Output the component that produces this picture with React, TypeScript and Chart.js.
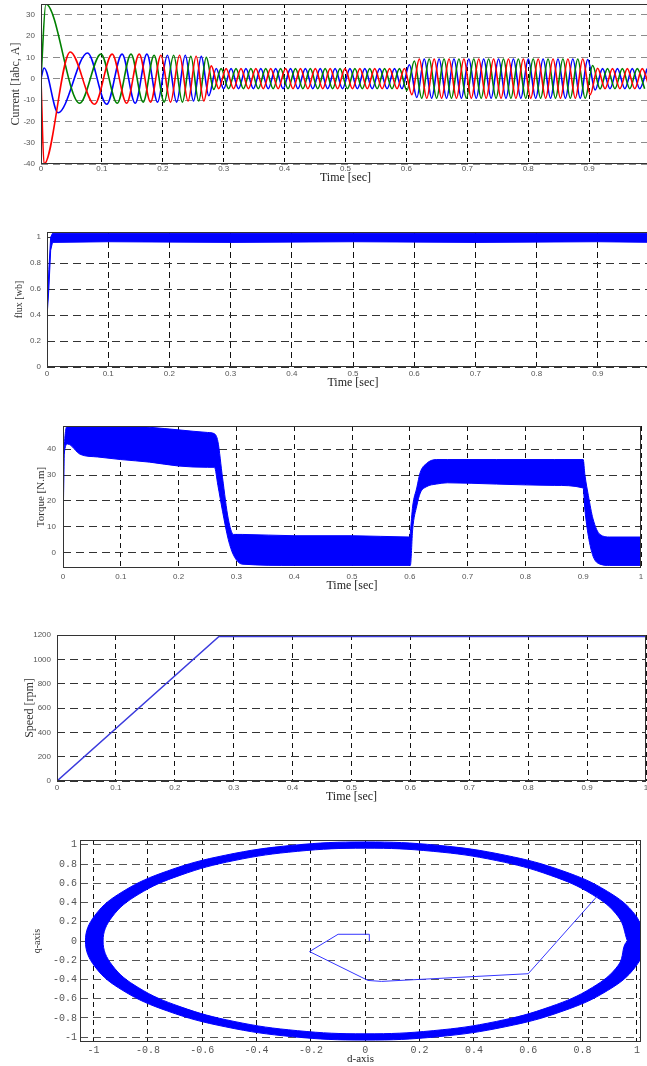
import React, { useEffect, useRef } from "react";
import { Chart, registerables } from "chart.js";

Chart.register(...registerables);

// ---------------- Data ----------------
// Time ticks
const timeTicks = [0, 0.1, 0.2, 0.3, 0.4, 0.5, 0.6, 0.7, 0.8, 0.9, 1];

// Stator currents (extrema)
const redT = [0, 0.005, 0.048, 0.088, 0.1168, 0.1406, 0.1613, 0.1799, 0.1969, 0.2127, 0.2275, 0.2415, 0.2547, 0.2674,
  0.2796, 0.2918, 0.304, 0.3162, 0.3284, 0.3406, 0.3528, 0.365, 0.3772, 0.3894, 0.4016, 0.4138, 0.426, 0.4382, 0.4504,
  0.4626, 0.4748, 0.487, 0.4992, 0.5114, 0.5236, 0.5358, 0.548, 0.5602, 0.5724, 0.5846, 0.5968, 0.609, 0.6212, 0.6334,
  0.6456, 0.6578, 0.67, 0.6822, 0.6944, 0.7066, 0.7188, 0.731, 0.7432, 0.7554, 0.7676, 0.7798, 0.792, 0.8042, 0.8164,
  0.8286, 0.8408, 0.853, 0.8652, 0.8774, 0.8896, 0.9018, 0.914, 0.9262, 0.9384, 0.9506, 0.9628, 0.975, 0.9872, 0.9994];
const redV = [0, -40, 12.5, -12, 11.5, -11.5, 11.5, -11, 11, -11, 11, -10.5, 10.5, -10.5,
  6, -4.7, 4.7, -4.7, 4.7, -4.7, 4.7, -4.7, 4.7, -4.7, 4.7, -4.7, 4.7, -4.7, 4.7,
  -4.7, 4.7, -4.7, 4.7, -4.7, 4.7, -4.7, 4.7, -4.7, 4.7, -4.7, 4.8, -7.5, 9.2, -9.2,
  9.2, -9.2, 9.2, -9.2, 9.2, -9.2, 9.2, -9.2, 9.2, -9.2, 9.2, -9.2, 9.2, -9.2, 9.2,
  -9.2, 9.2, -9.2, 9.2, -9.2, 9.2, -7.5, 4.9, -4.7, 4.7, -4.7, 4.7, -4.7, 4.7, -4.7];

const greenT = [0, 0.008, 0.0635, 0.0984, 0.1252, 0.1478, 0.1677, 0.1857, 0.2023, 0.2178, 0.2322, 0.246, 0.259, 0.2714,
  0.2836, 0.2958, 0.308, 0.3202, 0.3324, 0.3446, 0.3568, 0.369, 0.3812, 0.3934, 0.4056, 0.4178, 0.43, 0.4422, 0.4544,
  0.4666, 0.4788, 0.491, 0.5032, 0.5154, 0.5276, 0.5398, 0.552, 0.5642, 0.5764, 0.5886, 0.6008, 0.613, 0.6252, 0.6374,
  0.6496, 0.6618, 0.674, 0.6862, 0.6984, 0.7106, 0.7228, 0.735, 0.7472, 0.7594, 0.7716, 0.7838, 0.796, 0.8082, 0.8204,
  0.8326, 0.8448, 0.857, 0.8692, 0.8814, 0.8936, 0.9058, 0.918, 0.9302, 0.9424, 0.9546, 0.9668, 0.979, 0.9912];
const greenV = [0, 35, -11.5, 11.5, -11.5, 11.5, -11, 11, -11, 11, -11, 10.5, -10.5, 10,
  -5, 4.7, -4.7, 4.7, -4.7, 4.7, -4.7, 4.7, -4.7, 4.7, -4.7, 4.7, -4.7, 4.7, -4.7,
  4.7, -4.7, 4.7, -4.7, 4.7, -4.7, 4.7, -4.7, 4.7, -4.7, 4.7, -5.5, 8.3, -9.2, 9.2,
  -9.2, 9.2, -9.2, 9.2, -9.2, 9.2, -9.2, 9.2, -9.2, 9.2, -9.2, 9.2, -9.2, 9.2, -9.2,
  9.2, -9.2, 9.2, -9.2, 9.2, -9.2, 6.2, -4.8, 4.7, -4.7, 4.7, -4.7, 4.7, -4.7];

const blueT = [0, 0.005, 0.028, 0.0765, 0.1079, 0.1331, 0.1547, 0.1739, 0.1914, 0.2076, 0.2227, 0.2369, 0.2504, 0.2632,
  0.2755, 0.2877, 0.2999, 0.3121, 0.3243, 0.3365, 0.3487, 0.3609, 0.3731, 0.3853, 0.3975, 0.4097, 0.4219, 0.4341, 0.4463,
  0.4585, 0.4707, 0.4829, 0.4951, 0.5073, 0.5195, 0.5317, 0.5439, 0.5561, 0.5683, 0.5805, 0.5927, 0.6049, 0.6171, 0.6293,
  0.6415, 0.6537, 0.6659, 0.6781, 0.6903, 0.7025, 0.7147, 0.7269, 0.7391, 0.7513, 0.7635, 0.7757, 0.7879, 0.8001, 0.8123,
  0.8245, 0.8367, 0.8489, 0.8611, 0.8733, 0.8855, 0.8977, 0.9099, 0.9221, 0.9343, 0.9465, 0.9587, 0.9709, 0.9831, 0.9953];
const blueV = [0, 5, -16, 12, -12, 11.5, -11.5, 11.5, -11, 11, -11, 11, -10.5, 10.5,
  -8, 4.8, -4.7, 4.7, -4.7, 4.7, -4.7, 4.7, -4.7, 4.7, -4.7, 4.7, -4.7, 4.7, -4.7,
  4.7, -4.7, 4.7, -4.7, 4.7, -4.7, 4.7, -4.7, 4.7, -4.7, 4.7, -4.7, 6.5, -8.8, 9.2,
  -9.2, 9.2, -9.2, 9.2, -9.2, 9.2, -9.2, 9.2, -9.2, 9.2, -9.2, 9.2, -9.2, 9.2, -9.2,
  9.2, -9.2, 9.2, -9.2, 9.2, -9.2, 9.0, -5.3, 4.7, -4.7, 4.7, -4.7, 4.7, -4.7, 4.7];
const currentTicks = [-40, -30, -20, -10, 0, 10, 20, 30];

// Flux band
const fluxT = [0, 0.0005, 0.003, 0.006, 0.009, 0.1, 0.3, 0.5, 0.7, 0.9, 1.0];
const fluxHi = [0, 0.45, 0.75, 1.0, 1.03, 1.03, 1.03, 1.03, 1.03, 1.03, 1.03];
const fluxLo = [0, 0.42, 0.6, 0.9, 0.96, 0.965, 0.96, 0.965, 0.96, 0.965, 0.96];
const fluxTicks = [0, 0.2, 0.4, 0.6, 0.8, 1];

// Torque band
const torqueT = [0, 0.002, 0.008, 0.03, 0.06, 0.1, 0.15, 0.2, 0.25, 0.262, 0.268, 0.276, 0.286, 0.295, 0.31, 0.4, 0.5,
  0.6, 0.601, 0.605, 0.612, 0.618, 0.629, 0.646, 0.665, 0.75, 0.85, 0.9, 0.903, 0.909, 0.917, 0.929, 0.946, 1.0];
const torqueHi = [0, 40, 49, 49, 49, 49, 48.5, 47.5, 46.5, 46, 43, 29, 13, 7, 7, 6.5, 6.5,
  6, 8, 18, 25, 31, 34.5, 36, 36, 36, 36, 36, 30, 22, 13, 7, 6, 6];
const torqueLo = [0, 38, 42, 38, 37, 36, 35, 33.5, 33, 33, 26, 16, 5, -1, -4.5, -5, -5,
  -5, -5, 9, 18, 23, 25.5, 26.5, 27, 26.5, 26, 25, 16.5, 6.3, -1.4, -4.5, -5, -5];
const torqueTicks = [0, 10, 20, 30, 40];

// Speed
const speedT = [0, 0.275, 1.0];
const speedV = [0, 1188, 1188];
const speedTicks = [0, 200, 400, 600, 800, 1000, 1200];

// Flux locus (d-q): thick ring = outer edge (counter-clockwise) followed by inner edge (clockwise)
const ringD = [
  1.03, 0.995, 0.892, 0.728, 0.515, 0.267, 0, -0.267, -0.515, -0.728, -0.892, -0.995, -1.03,
  -0.995, -0.892, -0.728, -0.515, -0.267, 0, 0.267, 0.515, 0.728, 0.892, 0.995, 1.03,
  0.965, 0.932, 0.836, 0.682, 0.483, 0.25, 0, -0.25, -0.483, -0.682, -0.836, -0.932, -0.965,
  -0.932, -0.836, -0.682, -0.483, -0.25, 0, 0.25, 0.483, 0.682, 0.836, 0.932, 0.965];
const ringQ = [
  0, 0.267, 0.515, 0.728, 0.892, 0.995, 1.03, 0.995, 0.892, 0.728, 0.515, 0.267, 0,
  -0.267, -0.515, -0.728, -0.892, -0.995, -1.03, -0.995, -0.892, -0.728, -0.515, -0.267, 0,
  0, -0.25, -0.483, -0.682, -0.836, -0.932, -0.965, -0.932, -0.836, -0.682, -0.483, -0.25, 0,
  0.25, 0.483, 0.682, 0.836, 0.932, 0.965, 0.932, 0.836, 0.682, 0.483, 0.25, 0];
const pathD = [0.015, 0.015, -0.1, -0.205, 0.01, 0.06, 0.6, 0.855];
const pathQ = [0.0, 0.07, 0.07, -0.11, -0.41, -0.42, -0.34, 0.47];
const dTicks = [-1, -0.8, -0.6, -0.4, -0.2, 0, 0.2, 0.4, 0.6, 0.8, 1];
const qTicks = [-1, -0.8, -0.6, -0.4, -0.2, 0, 0.2, 0.4, 0.6, 0.8, 1];

// ---------------- Helpers ----------------
const SANS = "'Liberation Sans', Arial, sans-serif";
const SERIF = "'Liberation Serif', 'Times New Roman', serif";
const MONO = "'Liberation Mono', 'Courier New', monospace";
const PAD_TOP = 12;
const PAD_RIGHT = 10;

const pts = (xs: number[], ys: number[]) => xs.map((x, i) => ({ x, y: ys[i] }));

const framePlugin = {
  id: "frame",
  afterDatasetsDraw(chart: any) {
    const { ctx, chartArea: a } = chart;
    ctx.save();
    ctx.strokeStyle = "#333";
    ctx.lineWidth = 1;
    ctx.setLineDash([]);
    const l = Math.round(a.left) + 0.5;
    const t = Math.round(a.top) + 0.5;
    const r = Math.round(a.right) - 0.5;
    const b = Math.round(a.bottom) - 0.5;
    ctx.strokeRect(l, t, r - l, b - t);
    ctx.restore();
  },
};

type Spec = {
  L: number; R: number; T: number; B: number; xH: number;
  xMin: number; xMax: number; yMin: number; yMax: number;
  xTicks: number[]; yTicks: number[];
  xTitle: string; yTitle: string;
  xTitleSize: number; yTitleSize: number; yTitlePad: number;
  tickFont: any; xTickPad: number; yTickPad: number;
  xGridColor: string; xDash: number[]; yGridColor: string; yDash: number[];
  datasets: any[];
};

function buildConfig(s: Spec): any {
  return {
    type: "line",
    data: { datasets: s.datasets },
    options: {
      responsive: false,
      animation: false,
      events: [],
      layout: { padding: { top: PAD_TOP, right: PAD_RIGHT, left: 0, bottom: 0 } },
      plugins: { legend: { display: false }, tooltip: { enabled: false }, title: { display: false } },
      elements: { point: { radius: 0 } },
      scales: {
        x: {
          type: "linear",
          position: "bottom",
          min: s.xMin,
          max: s.xMax,
          afterBuildTicks: (sc: any) => { sc.ticks = s.xTicks.map((v) => ({ value: v })); },
          afterFit: (sc: any) => { sc.height = s.xH; },
          grid: { color: s.xGridColor, lineWidth: 1, drawTicks: false },
          border: { display: false, dash: s.xDash },
          ticks: {
            autoSkip: false, maxRotation: 0, minRotation: 0, padding: s.xTickPad,
            font: s.tickFont, color: "#555", callback: (v: any) => String(v),
          },
          title: { display: true, text: s.xTitle, font: { family: SERIF, size: s.xTitleSize }, color: "#222", padding: 0 },
        },
        y: {
          type: "linear",
          position: "left",
          min: s.yMin,
          max: s.yMax,
          afterBuildTicks: (sc: any) => { sc.ticks = s.yTicks.map((v) => ({ value: v })); },
          afterFit: (sc: any) => { sc.width = s.L; },
          grid: { color: s.yGridColor, lineWidth: 1, drawTicks: false },
          border: { display: false, dash: s.yDash },
          ticks: {
            autoSkip: false, padding: s.yTickPad, font: s.tickFont, color: "#555",
            callback: (v: any) => String(v),
          },
          title: {
            display: true, text: s.yTitle, font: { family: SERIF, size: s.yTitleSize }, color: "#333",
            padding: { top: s.yTitlePad, bottom: 0 },
          },
        },
      },
    },
    plugins: [framePlugin],
  };
}

function Plot({ spec }: { spec: Spec }) {
  const ref = useRef<HTMLCanvasElement | null>(null);
  const top = spec.T - PAD_TOP;
  const width = spec.R + PAD_RIGHT;
  const height = spec.B - top + spec.xH;
  useEffect(() => {
    const chart = new Chart(ref.current as HTMLCanvasElement, buildConfig(spec));
    return () => chart.destroy();
  }, []);
  return (
    <canvas
      ref={ref}
      width={width}
      height={height}
      style={{ position: "absolute", left: 0, top, width, height }}
    />
  );
}

const tickSans = { family: SANS, size: 8 };
const line = (data: any[], color: string, width: number, extra: any = {}) => ({
  data, borderColor: color, backgroundColor: color, borderWidth: width, pointRadius: 0, fill: false, ...extra,
});

const specs: Spec[] = [
  {
    L: 41, R: 650, T: 4, B: 164, xH: 21,
    xMin: 0, xMax: 1, yMin: -40, yMax: 35, xTicks: timeTicks, yTicks: currentTicks,
    xTitle: "Time [sec]", yTitle: "Current [Iabc, A]", xTitleSize: 12, yTitleSize: 12, yTitlePad: 8.8,
    tickFont: tickSans, xTickPad: 0, yTickPad: 6,
    xGridColor: "#000", xDash: [4, 3], yGridColor: "#8c8c8c", yDash: [7, 5],
    datasets: [
      line(pts(redT, redV), "#ff0000", 1.6, { cubicInterpolationMode: "monotone" }),
      line(pts(greenT, greenV), "#008000", 1.6, { cubicInterpolationMode: "monotone" }),
      line(pts(blueT, blueV), "#0000ff", 1.6, { cubicInterpolationMode: "monotone" }),
    ],
  },
  {
    L: 47, R: 659, T: 232, B: 367, xH: 23,
    xMin: 0, xMax: 1, yMin: 0, yMax: 1.04, xTicks: timeTicks, yTicks: fluxTicks,
    xTitle: "Time [sec]", yTitle: "flux [wb]", xTitleSize: 12, yTitleSize: 10, yTitlePad: 13,
    tickFont: tickSans, xTickPad: 2, yTickPad: 6,
    xGridColor: "#111", xDash: [6, 4], yGridColor: "#333", yDash: [8, 5],
    datasets: [
      line(pts(fluxT, fluxLo), "#0000ff", 1),
      line(pts(fluxT, fluxHi), "#0000ff", 1, { fill: "-1" }),
    ],
  },
  {
    L: 63, R: 641, T: 426, B: 568, xH: 25,
    xMin: 0, xMax: 1, yMin: -6, yMax: 49, xTicks: timeTicks, yTicks: torqueTicks,
    xTitle: "Time [sec]", yTitle: "Torque [N.m]", xTitleSize: 12, yTitleSize: 11, yTitlePad: 34.4,
    tickFont: tickSans, xTickPad: 4, yTickPad: 7,
    xGridColor: "#111", xDash: [5, 4], yGridColor: "#333", yDash: [8, 5],
    datasets: [
      line(pts(torqueT, torqueLo), "#0000ff", 1, { cubicInterpolationMode: "monotone" }),
      line(pts(torqueT, torqueHi), "#0000ff", 1, { cubicInterpolationMode: "monotone", fill: "-1" }),
    ],
  },
  {
    L: 57, R: 646, T: 635, B: 781, xH: 23,
    xMin: 0, xMax: 1, yMin: 0, yMax: 1200, xTicks: timeTicks, yTicks: speedTicks,
    xTitle: "Time [sec]", yTitle: "Speed [rpm]", xTitleSize: 12, yTitleSize: 12, yTitlePad: 22.8,
    tickFont: tickSans, xTickPad: 2, yTickPad: 6,
    xGridColor: "#111", xDash: [5, 4], yGridColor: "#333", yDash: [8, 5],
    datasets: [line(pts(speedT, speedV), "#3b3bdd", 1.5)],
  },
  {
    L: 80, R: 641, T: 840, B: 1042, xH: 24,
    xMin: -1.05, xMax: 1.015, yMin: -1.05, yMax: 1.05, xTicks: dTicks, yTicks: qTicks,
    xTitle: "d-axis", yTitle: "q-axis", xTitleSize: 11, yTitleSize: 10, yTitlePad: 31,
    tickFont: { family: MONO, size: 10 }, xTickPad: 2, yTickPad: 3,
    xGridColor: "#111", xDash: [5, 4], yGridColor: "#555", yDash: [8, 5],
    datasets: [
      line(pts(pathD, pathQ), "#3535ff", 1),
      line(pts(ringD, ringQ), "#0000ff", 1, { tension: 0.4, fill: "shape" }),
    ],
  },
];

export default function App() {
  return (
    <div
      style={{
        position: "absolute", left: 0, top: 0, width: 647, height: 1066,
        overflow: "hidden", background: "#fff",
      }}
    >
      {specs.map((s, i) => (
        <Plot key={i} spec={s} />
      ))}
    </div>
  );
}
